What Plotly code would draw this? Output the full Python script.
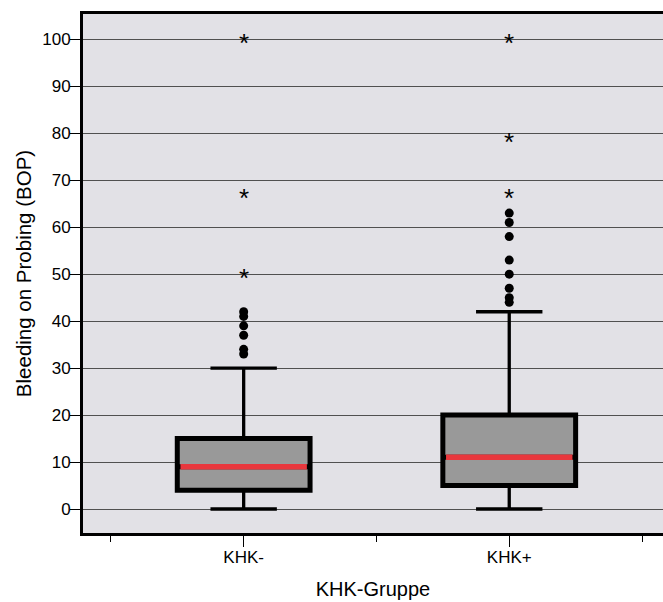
import plotly.graph_objects as go

categories = ["KHK-", "KHK+"]
q1 = [4, 5]
medians = [9, 11]
q3 = [15, 20]
lower_whisker = [0, 0]
upper_whisker = [30, 42]
outliers_circle = [
    [33, 34, 37, 39, 41, 42],
    [44, 45, 47, 50, 53, 58, 61, 63],
]
outliers_star = [
    [50, 67, 100],
    [67, 79, 100],
]
y_ticks = [0, 10, 20, 30, 40, 50, 60, 70, 80, 90, 100]

BOX_W = 0.5
FONT = "Liberation Sans, Arial, sans-serif"
STAR_SIZE = 26

fig = go.Figure()
annotations = []
for i, cat in enumerate(categories):
    # whiskers + caps (thinner line)
    fig.add_trace(go.Box(
        x=[i], q1=[q1[i]], median=[medians[i]], q3=[q3[i]],
        lowerfence=[lower_whisker[i]], upperfence=[upper_whisker[i]],
        width=BOX_W, whiskerwidth=0.5, boxpoints=False,
        fillcolor="#999999", line=dict(color="black", width=3.3),
        showlegend=False, hoverinfo="skip",
    ))
    # box body (thicker border)
    fig.add_trace(go.Box(
        x=[i], q1=[q1[i]], median=[medians[i]], q3=[q3[i]],
        lowerfence=[q1[i]], upperfence=[q3[i]],
        width=BOX_W, whiskerwidth=0, boxpoints=False,
        fillcolor="#999999", line=dict(color="black", width=5),
        showlegend=False, hoverinfo="skip",
    ))
    # red median line
    fig.add_trace(go.Scatter(
        x=[i - BOX_W / 2 + 0.012, i + BOX_W / 2 - 0.012], y=[medians[i], medians[i]],
        mode="lines", line=dict(color="#e8373d", width=5.5),
        showlegend=False, hoverinfo="skip",
    ))
    fig.add_trace(go.Scatter(
        x=[i] * len(outliers_circle[i]), y=outliers_circle[i],
        mode="markers", marker=dict(color="black", size=9, line=dict(width=0)),
        showlegend=False, hoverinfo="skip",
    ))
    for v in outliers_star[i]:
        annotations.append(dict(
            x=i, y=v, xref="x", yref="y", text="*", showarrow=False,
            font=dict(family=FONT, size=STAR_SIZE, color="black"),
            yshift=-0.15 * STAR_SIZE,
        ))

fig.update_layout(
    width=663, height=602,
    margin=dict(l=83, r=0, t=14, b=69),
    paper_bgcolor="white", plot_bgcolor="#e2e1e6",
    font=dict(family=FONT, size=17, color="black"),
    annotations=annotations,
)
fig.update_xaxes(
    range=[-0.605, 1.579],
    tickmode="array", tickvals=list(range(len(categories))), ticktext=categories,
    ticks="outside", ticklen=11, tickwidth=1.2, tickcolor="black",
    minor=dict(tickmode="array", tickvals=[-0.5, 0.5, 1.5], ticks="outside",
               ticklen=6, tickwidth=1.2, tickcolor="black", showgrid=False),
    showgrid=False, zeroline=False,
    showline=True, linewidth=3, linecolor="black", mirror=True,
    ticklabelstandoff=-4,
    title=dict(text="KHK-Gruppe", font=dict(size=20), standoff=16),
    tickfont=dict(size=17),
)
fig.update_yaxes(
    range=[-5.11, 105.39],
    tickmode="array", tickvals=y_ticks,
    ticks="outside", ticklen=10, tickwidth=1.2, tickcolor="black",
    showgrid=True, gridcolor="#505050", gridwidth=1.2,
    zeroline=False,
    showline=True, linewidth=3, linecolor="black",
    ticklabelstandoff=-4,
    title=dict(text="Bleeding on Probing (BOP)", font=dict(size=20.5), standoff=6),
    tickfont=dict(size=17),
)

fig.write_html("out.html", config={"displayModeBar": False},
               post_script="document.body.style.margin='0';")
